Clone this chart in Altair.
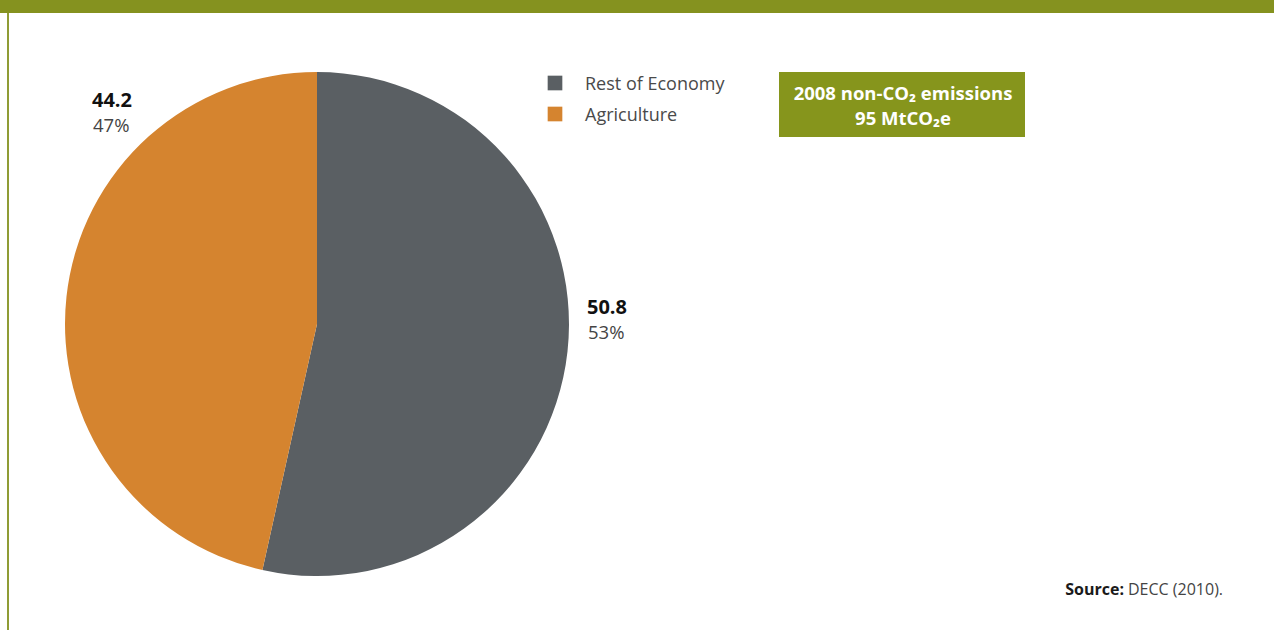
import altair as alt
import pandas as pd

# ---- data ----
categories = ["Rest of Economy", "Agriculture"]
values = [50.8, 44.2]
colors = ["#5a5f63", "#d5842f"]
year = 2008
source_bold = "Source:"
source_text = "DECC (2010)."

total = sum(values)
df = pd.DataFrame({
    "category": categories,
    "value": values,
    "order": list(range(len(categories))),
})
df["value_label"] = [f"{v:.1f}" for v in values]
df["pct_label"] = [f"{round(v / total * 100)}%" for v in values]

one = pd.DataFrame({"k": [0]})
FONT = "Open Sans"
GREEN = "#85921f"

color_scale = alt.Scale(domain=categories, range=colors)

# frame
top_bar = alt.Chart(one).mark_rect(color=GREEN).encode(
    x=alt.value(0), x2=alt.value(1274), y=alt.value(0), y2=alt.value(13))
left_line = alt.Chart(one).mark_rule(color="#8f9c35", strokeWidth=2).encode(
    x=alt.value(8), y=alt.value(13), y2=alt.value(630))

# pie
pie = alt.Chart(df).mark_arc(outerRadius=252).encode(
    theta=alt.Theta("value:Q", stack=True),
    color=alt.Color("category:N", scale=color_scale, legend=None),
    order=alt.Order("order:Q", sort="ascending"),
    x=alt.value(317), y=alt.value(324),
)

# slice labels
label_layout = {"Agriculture": (92, 107), "Rest of Economy": (587, 314)}
labels = []
for cat, (lx, ly) in label_layout.items():
    base = alt.Chart(df).transform_filter(alt.datum.category == cat)
    labels.append(base.mark_text(font=FONT, fontSize=20, fontWeight="bold", color="#111111",
                                 align="left", baseline="alphabetic").encode(
        text="value_label:N", x=alt.value(lx), y=alt.value(ly)))
    labels.append(base.mark_text(font=FONT, fontSize=18.5, color="#444444",
                                 align="left", baseline="alphabetic").encode(
        text="pct_label:N", x=alt.value(lx + 1), y=alt.value(ly + 25)))

# manual legend
leg_y = alt.Y("category:N", scale=alt.Scale(type="point", domain=categories, range=[83, 114], padding=0), axis=None)
leg_sq = alt.Chart(df).mark_square(size=215, opacity=1).encode(
    x=alt.value(555), y=leg_y,
    color=alt.Color("category:N", scale=color_scale, legend=None))
leg_tx = alt.Chart(df).mark_text(font=FONT, fontSize=18, color="#4a4a4a",
                                 align="left", baseline="middle", dy=1.5).encode(
    x=alt.value(585), y=leg_y, text="category:N")

# info box
box = alt.Chart(one).mark_rect(color="#86951c").encode(
    x=alt.value(779), x2=alt.value(1025), y=alt.value(72), y2=alt.value(137))
box_t1 = alt.Chart(one).mark_text(font=FONT, fontSize=18.5, fontWeight="bold", color="white",
                                  align="center", baseline="alphabetic").encode(
    x=alt.value(903), y=alt.value(100), text=alt.value(f"{year} non-CO₂ emissions"))
box_t2 = alt.Chart(one).mark_text(font=FONT, fontSize=18.5, fontWeight="bold", color="white",
                                  align="center", baseline="alphabetic").encode(
    x=alt.value(903), y=alt.value(125), text=alt.value(f"{total:.0f} MtCO₂e"))

# source
src1 = alt.Chart(one).mark_text(font=FONT, fontSize=16, fontWeight="bold", color="#1a1a1a",
                                align="right", baseline="alphabetic").encode(
    x=alt.value(1124), y=alt.value(595), text=alt.value(source_bold))
src2 = alt.Chart(one).mark_text(font=FONT, fontSize=16, color="#444444",
                                align="left", baseline="alphabetic").encode(
    x=alt.value(1128), y=alt.value(595), text=alt.value(source_text))

chart = alt.layer(top_bar, left_line, pie, *labels, leg_sq, leg_tx, box, box_t1, box_t2, src1, src2).properties(
    width=1274, height=630, padding=0, autosize=alt.AutoSizeParams(type="none"),
    background="white",
).configure_view(stroke=None).resolve_scale(y="independent")

chart.save("out.html", embed_options={"renderer": "svg", "actions": False})
